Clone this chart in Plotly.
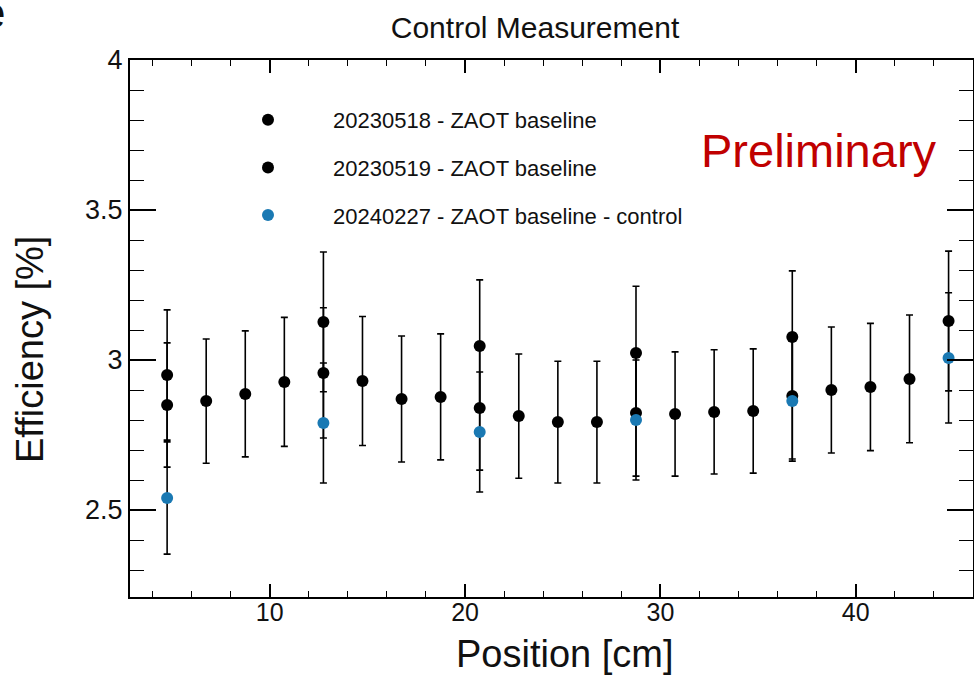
import plotly.graph_objects as go

# ---- data ----
pos_0518 = [4.75, 6.75, 8.75, 10.75, 12.75, 14.75, 16.75, 18.75, 20.75, 22.75,
            24.75, 26.75, 28.75, 30.75, 32.75, 34.75, 36.75, 38.75, 40.75, 42.75]
eff_0518 = [2.850, 2.863, 2.887, 2.927, 2.957, 2.930, 2.870, 2.877, 2.840, 2.813,
            2.793, 2.793, 2.823, 2.820, 2.827, 2.830, 2.880, 2.900, 2.910, 2.937]
err_0518 = [0.207, 0.207, 0.210, 0.215, 0.217, 0.215, 0.210, 0.210, 0.207, 0.207,
            0.203, 0.203, 0.210, 0.207, 0.207, 0.207, 0.210, 0.210, 0.212, 0.213]

pos_0519 = [4.75, 12.75, 20.75, 28.75, 36.75, 44.75]
eff_0519 = [2.950, 3.127, 3.047, 3.023, 3.077, 3.130]
err_0519 = [0.217, 0.233, 0.220, 0.223, 0.220, 0.233]

pos_ctrl = [4.75, 12.75, 20.75, 28.75, 36.75, 44.75]
eff_ctrl = [2.540, 2.790, 2.760, 2.800, 2.863, 3.007]
err_ctrl = [0.187, 0.200, 0.200, 0.200, 0.200, 0.217]

names = ["20230518 - ZAOT baseline",
         "20230519 - ZAOT baseline",
         "20240227 - ZAOT baseline - control"]
colors = ["#000000", "#000000", "#1a79b3"]

FONT = "Liberation Sans, Arial, Helvetica, sans-serif"

fig = go.Figure()
series = [(pos_0518, eff_0518, err_0518), (pos_0519, eff_0519, err_0519),
          (pos_ctrl, eff_ctrl, err_ctrl)]
for i, (x, y, e) in enumerate(series):
    fig.add_trace(go.Scatter(
        x=x, y=y, mode="markers", name=names[i], legendgroup=str(i),
        marker=dict(color=colors[i], size=12, symbol="circle"),
        error_y=dict(type="data", array=e, visible=True, color="#000000",
                     thickness=1.6, width=3.5),
    ))

W, H = 974, 675
L, R, T, B = 130, 1, 60, 78
pw = W - L - R
ph = H - T - B

def px_x(p):
    return (p - L) / pw

def px_y(p):
    return (H - B - p) / ph

fig.update_layout(
    width=W, height=H,
    margin=dict(l=L, r=R, t=T, b=B, autoexpand=False),
    paper_bgcolor="white", plot_bgcolor="white",
    font=dict(family=FONT, color="#000000"),
    title=dict(text="Control Measurement", x=px_x(535), xanchor="center",
               xref="paper", y=1 - 27 / H, yref="container", yanchor="middle",
               font=dict(size=30, family=FONT, color="#111111")),
    showlegend=True,
    legend=dict(x=px_x(203), xanchor="left", y=px_y(99), yanchor="top",
                font=dict(size=22, family=FONT, color="#111111"),
                bgcolor="rgba(0,0,0,0)", tracegroupgap=16, itemwidth=120,
                traceorder="grouped"),
    xaxis=dict(range=[2.85, 46.0], showgrid=False, zeroline=False,
               showline=True, linecolor="#000000", linewidth=2, mirror="allticks",
               ticks="inside", ticklen=13, tickwidth=1.5, tickcolor="#000000",
               dtick=10, tick0=0, ticklabelstandoff=-8,
               minor=dict(dtick=2, tick0=0, ticks="inside", ticklen=6,
                          tickwidth=1.3, tickcolor="#000000"),
               tickfont=dict(size=25, family=FONT, color="#111111")),
    yaxis=dict(range=[2.21, 4.0], showgrid=False, zeroline=False,
               showline=True, linecolor="#000000", linewidth=2, mirror="allticks",
               ticks="inside", ticklen=26, tickwidth=1.5, tickcolor="#000000",
               dtick=0.5, tick0=0, tickformat="~g",
               minor=dict(dtick=0.1, tick0=0, ticks="inside", ticklen=14,
                          tickwidth=1.3, tickcolor="#000000"),
               tickfont=dict(size=27, family=FONT, color="#111111")),
)

fig.add_annotation(text="Preliminary", xref="paper", yref="paper",
                   x=px_x(699), xanchor="left", y=px_y(150), yanchor="middle",
                   showarrow=False,
                   font=dict(size=47, family=FONT, color="#c00000"))
fig.add_annotation(text="Position [cm]", xref="paper", yref="paper",
                   x=px_x(565), xanchor="center", y=px_y(654), yanchor="middle",
                   showarrow=False,
                   font=dict(size=38, family=FONT, color="#111111"))
fig.add_annotation(text="Efficiency [%]", xref="paper", yref="paper",
                   x=px_x(30), xanchor="center", y=px_y(350), yanchor="middle",
                   textangle=-90, showarrow=False,
                   font=dict(size=38, family=FONT, color="#111111"))
fig.add_annotation(text="e", xref="paper", yref="paper",
                   x=px_x(7), xanchor="right", y=px_y(12), yanchor="middle",
                   showarrow=False,
                   font=dict(size=44, family=FONT, color="#111111"))

fig.write_html("out.html",
               config={"displayModeBar": False},
               post_script="document.body.style.margin='0';"
                           "document.body.style.overflow='hidden';")
